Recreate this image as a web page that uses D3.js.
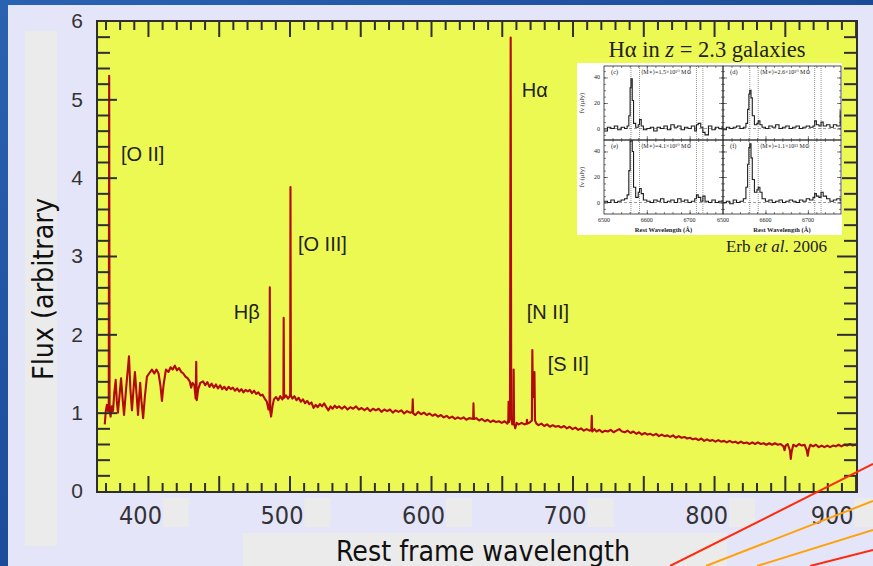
<!DOCTYPE html>
<html>
<head>
<meta charset="utf-8">
<script src="https://cdn.jsdelivr.net/npm/d3@7"></script>
<style>
html, body { margin: 0; padding: 0; background: #1c4f9c; }
#chart { width: 873px; height: 566px; overflow: hidden; }
</style>
</head>
<body>
<div id="chart"></div>
<script>
// rest frame galaxy spectrum with the Erb et al. 2006 inset

var width = 873;
var height = 566;

var xTickLabels = [400, 500, 600, 700, 800, 900];
var yTickLabels = [0, 1, 2, 3, 4, 5, 6];

// [wavelength (nm), flux]
var spectrum = [
	[369.5,0.85],[370.2,1.02],[371.0,1.10],[371.8,1.02],[372.3,1.05],[372.6,5.30],[372.9,1.05],
	[373.6,0.95],[374.4,1.08],[375.3,1.02],[376.2,1.25],[377.2,1.42],[378.0,1.15],[378.8,1.00],
	[379.8,1.20],[381.0,1.44],[382.0,1.20],[383.1,0.97],[384.3,1.25],[385.5,1.50],[386.6,1.72],
	[387.6,1.30],[388.7,1.03],[389.8,1.30],[390.8,1.52],[391.9,1.25],[393.0,0.97],[393.8,1.20],
	[394.5,1.38],[395.4,1.15],[396.6,0.93],[397.8,1.20],[399.3,1.46],[400.8,1.50],[402.8,1.55],
	[404.5,1.50],[406.0,1.55],[407.5,1.50],[408.8,1.35],[409.9,1.15],[411.0,1.35],[412.7,1.55],
	[414.5,1.52],[416.0,1.58],[417.5,1.55],[419.0,1.60],[420.5,1.54],[422.0,1.57],[423.5,1.52],
	[425.0,1.50],[426.5,1.46],[428.0,1.44],[429.5,1.40],[430.5,1.32],[431.5,1.38],[432.8,1.35],
	[433.7,1.18],[434.1,1.65],[434.5,1.16],[435.5,1.30],[437.0,1.38],[438.9,1.40],[440.5,1.35],
	[442.0,1.39],[443.5,1.33],[445.0,1.37],[446.5,1.32],[448.0,1.36],[449.5,1.31],[451.0,1.35],
	[452.5,1.30],[454.0,1.33],[455.5,1.29],[457.0,1.33],[458.5,1.30],[460.0,1.32],[461.5,1.28],
	[463.0,1.31],[464.5,1.27],[466.0,1.30],[467.5,1.26],[469.0,1.29],[470.5,1.27],[472.0,1.29],
	[473.5,1.25],[475.0,1.28],[476.5,1.24],[478.0,1.26],[479.5,1.22],[481.0,1.23],[482.5,1.18],
	[484.0,1.14],[485.2,1.04],[485.9,1.08],[486.1,2.60],[486.4,1.02],[487.0,0.95],[488.0,1.08],
	[489.0,1.17],[490.5,1.20],[492.0,1.16],[493.5,1.21],[495.0,1.17],[495.7,1.20],[495.9,2.21],
	[496.2,1.19],[497.5,1.22],[499.0,1.18],[500.3,1.21],[500.5,1.24],[500.7,3.88],[501.0,1.22],
	[502.0,1.18],[503.5,1.21],[505.0,1.16],[506.5,1.19],[508.0,1.14],[509.5,1.17],[511.0,1.12],
	[512.5,1.15],[514.0,1.11],[515.5,1.13],[517.0,1.06],[518.5,1.10],[520.0,1.07],[521.5,1.11],
	[523.0,1.08],[524.5,1.12],[526.0,1.07],[527.5,1.03],[529.0,1.08],[530.5,1.05],[532.0,1.09],
	[533.5,1.06],[535.0,1.08],[537.0,1.05],[539.0,1.08],[541.0,1.04],[543.0,1.07],[545.0,1.05],
	[547.0,1.08],[549.0,1.04],[551.0,1.06],[553.0,1.03],[555.0,1.06],[557.0,1.02],[559.0,1.05],
	[561.0,1.03],[563.0,1.05],[565.0,1.01],[567.0,1.04],[569.0,1.02],[571.0,1.04],[573.0,1.00],
	[575.0,1.03],[577.0,1.01],[579.0,1.03],[581.0,0.99],[583.0,1.02],[585.0,1.00],[586.8,1.01],
	[587.1,1.17],[587.4,0.99],[589.0,0.97],[591.0,1.01],[593.0,0.98],[595.0,1.00],[597.0,0.97],
	[599.0,0.99],[601.0,0.96],[603.0,0.98],[605.0,0.95],[607.0,0.97],[609.0,0.94],[611.0,0.96],
	[613.0,0.93],[615.0,0.95],[617.0,0.92],[619.0,0.94],[621.0,0.92],[623.0,0.94],[625.0,0.91],
	[627.0,0.93],[629.8,0.92],[630.0,1.12],[630.3,0.92],[632.0,0.93],[634.0,0.90],[636.0,0.92],
	[638.0,0.89],[640.0,0.91],[642.0,0.88],[644.0,0.90],[646.0,0.88],[648.0,0.89],[650.0,0.87],
	[652.0,0.89],[654.0,0.86],[654.6,0.90],[654.8,1.14],[655.1,0.88],[655.8,0.95],[656.3,5.79],
	[656.7,0.95],[657.4,0.85],[658.2,0.92],[658.4,1.55],[658.7,0.86],[659.5,0.80],[660.5,0.87],
	[662.0,0.85],[664.0,0.87],[666.0,0.85],[667.5,0.86],[667.8,0.91],[668.1,0.86],[669.5,0.87],
	[671.3,0.90],[671.6,1.80],[672.0,1.20],[672.8,1.30],[673.1,1.52],[673.5,0.90],[674.5,0.86],
	[676.0,0.84],[678.0,0.86],[680.0,0.83],[682.0,0.85],[684.0,0.82],[686.0,0.84],[688.0,0.82],
	[690.0,0.83],[692.0,0.81],[694.0,0.83],[696.0,0.80],[698.0,0.82],[700.0,0.79],[702.0,0.81],
	[704.0,0.78],[706.0,0.80],[708.0,0.77],[710.0,0.79],[712.0,0.77],[713.3,0.78],[713.6,0.96],
	[713.9,0.76],[715.5,0.79],[717.0,0.76],[719.0,0.78],[721.0,0.75],[723.0,0.77],[725.0,0.76],
	[727.0,0.78],[729.0,0.75],[731.0,0.77],[733.0,0.79],[735.0,0.76],[737.0,0.75],[739.0,0.77],
	[741.0,0.74],[743.0,0.76],[745.0,0.73],[747.0,0.75],[749.0,0.72],[751.0,0.74],[753.0,0.72],
	[755.0,0.73],[757.0,0.71],[759.0,0.73],[761.0,0.70],[763.0,0.72],[765.0,0.70],[767.0,0.71],
	[769.0,0.69],[771.0,0.71],[773.0,0.68],[775.0,0.70],[777.0,0.68],[779.0,0.69],[781.0,0.67],
	[783.0,0.68],[785.0,0.66],[787.0,0.67],[789.0,0.65],[791.0,0.67],[793.0,0.64],[795.0,0.66],
	[797.0,0.64],[799.0,0.65],[801.0,0.63],[803.0,0.65],[805.0,0.63],[807.0,0.64],[809.0,0.62],
	[811.0,0.64],[813.0,0.62],[815.0,0.63],[817.0,0.61],[819.0,0.63],[821.0,0.61],[823.0,0.62],
	[825.0,0.60],[827.0,0.62],[829.0,0.60],[831.0,0.62],[833.0,0.60],[835.0,0.61],[837.0,0.59],
	[839.0,0.61],[841.0,0.59],[843.0,0.61],[845.0,0.59],[847.0,0.60],[849.0,0.57],[849.8,0.52],
	[850.6,0.58],[852.0,0.60],[853.6,0.52],[854.2,0.41],[854.8,0.50],[856.0,0.59],[858.0,0.57],
	[860.0,0.60],[862.0,0.58],[864.0,0.59],[865.5,0.52],[866.2,0.45],[866.9,0.53],[868.0,0.59],
	[870.0,0.57],[872.0,0.59],[874.0,0.56],[876.0,0.58],[878.0,0.56],[880.0,0.58],[882.0,0.56],
	[884.0,0.58],[886.0,0.57],[888.0,0.59],[890.0,0.57],[892.0,0.59],[894.0,0.58],[896.0,0.60],
	[898.0,0.58],[900.0,0.59],[901.0,0.58]
];

var annotations = [
	{"label": "[O II]", "wl": 380.9, "flux": 4.21},
	{"label": "H\u03b2", "wl": 460.7, "flux": 2.20},
	{"label": "[O III]", "wl": 506.0, "flux": 3.07},
	{"label": "H\u03b1", "wl": 664.1, "flux": 5.03},
	{"label": "[N II]", "wl": 667.7, "flux": 2.20},
	{"label": "[S II]", "wl": 682.5, "flux": 1.53}
];

// inset: Erb et al. 2006, four stacked spectra (flux in microJy)
var insetWavelength = [6500,6508,6516,6524,6532,6540,6548,6554,6558,6561,6563,6566,6569,6574,6580,
	6583,6587,6592,6600,6608,6616,6624,6632,6640,6648,6656,6664,6672,6680,6688,6696,6704,6712,
	6716,6720,6726,6731,6736,6744,6752,6760,6768,6776];
var fluxC = [-2,1,0,2,-1,1,0,2,10,32,39,22,4,1,3,7,2,-1,0,1,-2,1,0,2,-1,3,1,2,-1,1,0,2,-2,3,4,1,-3,-5,2,-1,1,0,2];
var fluxD = [-1,1,0,1,2,0,1,4,15,27,30,24,10,3,4,6,3,1,0,2,1,3,0,1,2,0,1,2,0,1,2,1,2,6,3,2,5,2,3,1,3,2,14];
var fluxE = [1,0,2,0,1,2,3,6,25,48,52,40,12,4,8,11,7,2,1,0,2,1,3,0,1,2,0,3,1,2,0,1,3,6,4,1,5,1,0,2,0,1,2];
var fluxF = [0,1,-1,2,0,1,3,12,30,43,46,35,18,8,10,12,8,3,1,2,0,1,2,0,1,2,1,0,2,1,3,2,4,7,5,4,8,5,3,1,2,3,1];
var panelNames = ["(c)", "(d)", "(e)", "(f)"];
var panelMass = ["1.5\u00d710\u00b9\u2070", "2.6\u00d710\u00b9\u2070", "4.1\u00d710\u00b9\u2070", "1.1\u00d710\u00b9\u00b9"];
var insetTickLabels = [6500, 6600, 6700];
var insetYLabels = [0, 20, 40];
var insetLines = [6563, 6583, 6716, 6731];

var svg = d3.select("#chart").append("svg")
	.attr("width", width)
	.attr("height", height);

var defs = svg.append("defs");
var bg = defs.append("linearGradient").attr("id", "bluebg")
	.attr("x1", 0).attr("y1", 0).attr("x2", 1).attr("y2", 1);
bg.append("stop").attr("offset", "0%").attr("stop-color", "#2a62b2");
bg.append("stop").attr("offset", "50%").attr("stop-color", "#1a4c99");
bg.append("stop").attr("offset", "100%").attr("stop-color", "#2358a6");

svg.append("rect").attr("width", width).attr("height", height).attr("fill", "url(#bluebg)");
svg.append("rect").attr("x", 8).attr("y", 5).attr("width", width - 8).attr("height", height - 5)
	.attr("fill", "#e5e5fa");

// grey boxes behind axis titles
svg.append("rect").attr("x", 25).attr("y", 31).attr("width", 32).attr("height", 515).attr("fill", "#ebebeb");
svg.append("rect").attr("x", 243).attr("y", 533).attr("width", 484).attr("height", 33).attr("fill", "#ebebeb");

var plotLeft = 97, plotRight = 857, plotTop = 21, plotBottom = 492;

var x = d3.scaleLinear().domain([364, 901]).range([plotLeft, plotRight]);
var y = d3.scaleLinear().domain([0, 6]).range([491, plotTop]);

svg.append("rect")
	.attr("x", plotLeft).attr("y", plotTop)
	.attr("width", plotRight - plotLeft).attr("height", plotBottom - plotTop)
	.attr("fill", "#edf953");

defs.append("clipPath").attr("id", "plotclip")
	.append("rect").attr("x", plotLeft).attr("y", plotTop)
	.attr("width", plotRight - plotLeft).attr("height", plotBottom - plotTop);

var line = d3.line()
	.x(function(d) { return x(d[0]); })
	.y(function(d) { return y(d[1]); });

svg.append("path")
	.datum(spectrum)
	.attr("clip-path", "url(#plotclip)")
	.attr("d", line)
	.attr("fill", "none")
	.attr("stroke", "#b20a0a")
	.attr("stroke-width", 2.1)
	.attr("stroke-linejoin", "round");

// ticks on all four sides, pointing inward
var xMinor = d3.range(370, 901, 10).filter(function(v) { return v % 50 != 0; });
var xMajor = d3.range(400, 901, 50);
var yMinor = d3.range(1, 30).map(function(v) { return v / 5; }).filter(function(v) { return v % 1 != 0; });
var yMajor = d3.range(1, 6);

function tickGroup(axis, tx, ty) {
	var g = svg.append("g")
		.attr("transform", "translate(" + tx + "," + ty + ")")
		.attr("color", "#2e2e2e")
		.call(axis);
	g.select(".domain").remove();
	g.selectAll("text").remove();
	g.selectAll("line").attr("stroke-width", 2);
	return g;
}

tickGroup(d3.axisBottom(x).tickValues(xMinor).tickSize(-9), 0, plotBottom);
tickGroup(d3.axisBottom(x).tickValues(xMajor).tickSize(-16), 0, plotBottom);
tickGroup(d3.axisTop(x).tickValues(xMinor).tickSize(-9), 0, plotTop);
tickGroup(d3.axisTop(x).tickValues(xMajor).tickSize(-16), 0, plotTop);
tickGroup(d3.axisLeft(y).tickValues(yMinor).tickSize(-13), plotLeft, 0);
tickGroup(d3.axisLeft(y).tickValues(yMajor).tickSize(-20), plotLeft, 0);
tickGroup(d3.axisRight(y).tickValues(yMinor).tickSize(-13), plotRight, 0);
tickGroup(d3.axisRight(y).tickValues(yMajor).tickSize(-20), plotRight, 0);

svg.append("rect")
	.attr("x", plotLeft).attr("y", plotTop)
	.attr("width", plotRight - plotLeft).attr("height", plotBottom - plotTop)
	.attr("fill", "none").attr("stroke", "#2e2e2e").attr("stroke-width", 2);

// inset figure
var inset = svg.append("g");
inset.append("rect").attr("x", 577).attr("y", 63).attr("width", 265).attr("height", 172).attr("fill", "#ffffff");

var panelX = [[604, 723], [723, 841]];
var panelY = [[66, 140], [140, 214]];
var panelFlux = [fluxC, fluxD, fluxE, fluxF];
var serif = "'Liberation Serif', 'DejaVu Serif', serif";

panelFlux.forEach(function(fl, i) {
	var col = i % 2, row = Math.floor(i / 2);
	var px = d3.scaleLinear().domain([6500, 6778]).range(panelX[col]);
	var py = d3.scaleLinear().domain([-9, 49]).range([panelY[row][1], panelY[row][0]]);
	var g = inset.append("g");
	var cid = "pclip" + i;
	defs.append("clipPath").attr("id", cid).append("rect")
		.attr("x", panelX[col][0]).attr("y", panelY[row][0])
		.attr("width", panelX[col][1] - panelX[col][0]).attr("height", panelY[row][1] - panelY[row][0]);

	g.append("line")
		.attr("x1", panelX[col][0]).attr("x2", panelX[col][1])
		.attr("y1", py(0)).attr("y2", py(0))
		.attr("stroke", "#777").attr("stroke-width", 0.7).attr("stroke-dasharray", "3,2");

	g.selectAll(".vl").data(insetLines).enter().append("line")
		.attr("x1", function(d) { return px(d); }).attr("x2", function(d) { return px(d); })
		.attr("y1", panelY[row][0]).attr("y2", panelY[row][1])
		.attr("stroke", "#666").attr("stroke-width", 0.7).attr("stroke-dasharray", "1,1");

	var pl = d3.line()
		.x(function(d, j) { return px(insetWavelength[j]); })
		.y(function(d) { return py(d); })
		.curve(d3.curveStepAfter);
	g.append("path").datum(fl)
		.attr("clip-path", "url(#" + cid + ")")
		.attr("d", pl)
		.attr("fill", "none").attr("stroke", "#1e1e1e").attr("stroke-width", 1.1);

	var ax = g.append("g").attr("color", "#333");
	[[d3.axisBottom, panelY[row][1]], [d3.axisTop, panelY[row][0]]].forEach(function(a) {
		var t = ax.append("g").attr("transform", "translate(0," + a[1] + ")")
			.call(a[0](px).tickValues(d3.range(6520, 6778, 20)).tickSize(-2).tickFormat(""));
		t.select(".domain").remove();
		t.selectAll("line").attr("stroke-width", 0.6);
		var T = ax.append("g").attr("transform", "translate(0," + a[1] + ")")
			.call(a[0](px).tickValues([6600, 6700]).tickSize(-4).tickFormat(""));
		T.select(".domain").remove();
		T.selectAll("line").attr("stroke-width", 0.6);
	});
	[[d3.axisLeft, panelX[col][0]], [d3.axisRight, panelX[col][1]]].forEach(function(a) {
		var t = ax.append("g").attr("transform", "translate(" + a[1] + ",0)")
			.call(a[0](py).tickValues([-5, 0, 5, 10, 15, 20, 25, 30, 35, 40, 45]).tickSize(-2).tickFormat(""));
		t.select(".domain").remove();
		t.selectAll("line").attr("stroke-width", 0.6);
		var T = ax.append("g").attr("transform", "translate(" + a[1] + ",0)")
			.call(a[0](py).tickValues(insetYLabels).tickSize(-4).tickFormat(""));
		T.select(".domain").remove();
		T.selectAll("line").attr("stroke-width", 0.6);
	});

	g.append("rect")
		.attr("x", panelX[col][0]).attr("y", panelY[row][0])
		.attr("width", panelX[col][1] - panelX[col][0]).attr("height", panelY[row][1] - panelY[row][0])
		.attr("fill", "none").attr("stroke", "#222").attr("stroke-width", 0.8);

	g.append("text")
		.attr("x", panelX[col][0] + 7).attr("y", panelY[row][0] + 8)
		.attr("font-family", serif).attr("font-size", 6.5).attr("fill", "#222")
		.text(panelNames[i]);
	g.append("text")
		.attr("x", panelX[col][0] + 37).attr("y", panelY[row][0] + 8)
		.attr("font-family", serif).attr("font-size", 6).attr("fill", "#222")
		.text("\u27e8M\u2217\u27e9=" + panelMass[i] + " M\u2299");

	if (col == 0) {
		g.selectAll(".yl").data(insetYLabels).enter().append("text")
			.attr("x", panelX[0][0] - 4).attr("y", function(d) { return py(d) + 2; })
			.attr("text-anchor", "end")
			.attr("font-family", serif).attr("font-size", 6).attr("fill", "#222")
			.text(function(d) { return d; });
		g.append("text")
			.attr("transform", "translate(584," + ((panelY[row][0] + panelY[row][1]) / 2) + ") rotate(-90)")
			.attr("text-anchor", "middle")
			.attr("font-family", serif).attr("font-size", 6.5).attr("fill", "#222")
			.text("f\u03bd (\u03bcJy)");
	}
	if (row == 1) {
		g.selectAll(".xl").data(insetTickLabels).enter().append("text")
			.attr("x", function(d) { return px(d); }).attr("y", 222)
			.attr("text-anchor", "middle")
			.attr("font-family", serif).attr("font-size", 6).attr("fill", "#222")
			.text(function(d) { return d; });
		g.append("text")
			.attr("x", (panelX[col][0] + panelX[col][1]) / 2).attr("y", 232)
			.attr("text-anchor", "middle")
			.attr("font-family", serif).attr("font-size", 6.5).attr("font-weight", "bold").attr("fill", "#222")
			.text("Rest Wavelength (\u00c5)");
	}
});

var title = svg.append("text")
	.attr("x", 707).attr("y", 57)
	.attr("text-anchor", "middle")
	.attr("font-family", serif).attr("font-size", 22.5).attr("fill", "#222");
title.append("tspan").text("H\u03b1 in ");
title.append("tspan").attr("font-style", "italic").text("z");
title.append("tspan").text(" = 2.3 galaxies");

var cite = svg.append("text")
	.attr("x", 827).attr("y", 252)
	.attr("text-anchor", "end")
	.attr("font-family", serif).attr("font-size", 17).attr("fill", "#222");
cite.append("tspan").text("Erb ");
cite.append("tspan").attr("font-style", "italic").text("et al");
cite.append("tspan").text(". 2006");

// line labels
svg.selectAll(".ann").data(annotations).enter().append("text")
	.attr("x", function(d) { return x(d.wl); })
	.attr("y", function(d) { return y(d.flux); })
	.attr("font-family", "'Liberation Sans', Arial, sans-serif")
	.attr("font-size", 20)
	.attr("fill", "#222")
	.text(function(d) { return d.label; });

// y tick labels
var yl = svg.append("g")
	.attr("transform", "translate(" + plotLeft + ",0)")
	.attr("color", "#333")
	.call(d3.axisLeft(y).tickValues(yTickLabels).tickSize(0).tickPadding(14).tickFormat(d3.format("d")));
yl.select(".domain").remove();
yl.selectAll("text")
	.attr("font-family", "'Liberation Sans', Arial, sans-serif")
	.attr("font-size", 21)
	.attr("fill", "#333");

// x tick labels, each followed by a grey patch
var condensed = "'DejaVu Sans Condensed', 'DejaVu Sans', sans-serif";
svg.selectAll(".xlab").data(xTickLabels).enter().append("text")
	.attr("x", function(d) { return x(d) + (d == 900 ? -2 : 14); })
	.attr("y", 524)
	.attr("text-anchor", "end")
	.attr("font-family", condensed)
	.attr("font-stretch", "condensed")
	.attr("font-size", 25)
	.attr("fill", "#333")
	.text(function(d) { return d; });

svg.selectAll(".xpatch").data(xTickLabels).enter().append("rect")
	.attr("x", function(d) { return d == 900 ? x(d) - 1 : x(d) + 15; })
	.attr("y", 498)
	.attr("width", function(d) { return d == 900 ? width - x(d) + 1 : 26; })
	.attr("height", 29)
	.attr("fill", "#ebebeb");

svg.append("text")
	.attr("x", 483).attr("y", 561)
	.attr("text-anchor", "middle")
	.attr("font-family", condensed)
	.attr("font-stretch", "condensed")
	.attr("font-size", 28)
	.attr("textLength", 294)
	.attr("lengthAdjust", "spacingAndGlyphs")
	.attr("fill", "#111")
	.text("Rest frame wavelength");

svg.append("text")
	.attr("transform", "translate(53,289) rotate(-90)")
	.attr("text-anchor", "middle")
	.attr("font-family", condensed)
	.attr("font-stretch", "condensed")
	.attr("font-size", 28)
	.attr("textLength", 182)
	.attr("lengthAdjust", "spacingAndGlyphs")
	.attr("fill", "#111")
	.text("Flux (arbitrary");

// slide decoration, bottom right
var deco = [
	{"x1": 670, "y1": 566, "x2": 873, "y2": 464, "c": "#ff2a0a"},
	{"x1": 706, "y1": 566, "x2": 873, "y2": 501, "c": "#ffa20a"},
	{"x1": 757, "y1": 566, "x2": 873, "y2": 530, "c": "#ffa20a"},
	{"x1": 810, "y1": 566, "x2": 873, "y2": 550, "c": "#ff2a0a"}
];
svg.selectAll(".deco").data(deco).enter().append("line")
	.attr("x1", function(d) { return d.x1; }).attr("y1", function(d) { return d.y1; })
	.attr("x2", function(d) { return d.x2; }).attr("y2", function(d) { return d.y2; })
	.attr("stroke", function(d) { return d.c; })
	.attr("stroke-width", 2);
</script>
</body>
</html>
